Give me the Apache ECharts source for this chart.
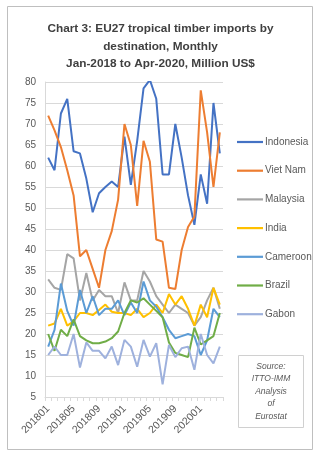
<!DOCTYPE html>
<html>
<head>
<meta charset="utf-8">
<script src="https://cdn.jsdelivr.net/npm/echarts@6/dist/echarts.min.js"></script>
<style>
  html, body { margin: 0; padding: 0; background: #fff; }
  #chart { width: 321px; height: 459px; }
</style>
</head>
<body>
<div id="chart"></div>
<script>
// Monthly categories, Jan 2018 .. Apr 2020
const months = [
  '201801','201802','201803','201804','201805','201806','201807','201808','201809','201810','201811','201812',
  '201901','201902','201903','201904','201905','201906','201907','201908','201909','201910','201911','201912',
  '202001','202002','202003','202004'
];

// EU27 tropical timber imports by origin, million US$
const indonesia = [62,59,72.5,76,63.5,63,57,49,53.5,55,56.3,55,67,55.5,66,78.5,80.5,76,58,58,70,62,53,46,58,51,75,63];
const vietNam   = [72,68.5,64.5,59,53,38.5,40,35.5,31,40,44.5,52,70,65,50.5,66,61,42.5,42,31,30.7,40,45.5,48,78,68,55,68];
const malaysia  = [33,31,30.5,39,38,28,34.5,28,30.5,29,29,25,32.3,28,28,35,32.5,29,27,25,27,26,25,22,24,28,31,26];
const india     = [22,22.5,26,22,23,25,25,24.5,25.7,27,25.3,25,25,24.5,26,24,25,27,25,29.5,27,29,26,22,27,24,31,27];
const cameroon  = [17,21,32,25.5,22,30.5,25,29,24.5,26,26,28,24.5,27.5,25,32.5,28,26.5,24,21,19,19.5,20,19.5,15,18.5,26,24];
const brazil    = [20,16,21,19.5,23.5,19.5,18.5,17.8,17.8,18.2,19,20.6,25,28,27.5,28.5,27,25.5,24,18,15.5,15,14.5,21.5,17.5,18.5,19.5,25];
const gabon     = [15,17,15,15,20,12,18,16,16,14.2,17,12.6,18.6,17,12.2,18.6,14.6,17.8,8,17.4,14.5,16.6,17,11.5,20,15,13,17];

// y-axis range and step
const yMin = 5, yMax = 80, yStep = 5;

const seriesDefs = [
  ['Indonesia', indonesia, '#4472C4'],
  ['Viet Nam',  vietNam,   '#ED7D31'],
  ['Malaysia',  malaysia,  '#A5A5A5'],
  ['India',     india,     '#FFC000'],
  ['Cameroon',  cameroon,  '#5B9BD5'],
  ['Brazil',    brazil,    '#70AD47'],
  ['Gabon',     gabon,     '#9EB1DD']
];

const font = 'Liberation Sans, Arial, sans-serif';
const textGray = '#595959';
const gridGray = '#D9D9D9';

const chart = echarts.init(document.getElementById('chart'), null, { renderer: 'canvas' });

chart.setOption({
  animation: false,
  backgroundColor: '#fff',
  color: seriesDefs.map(d => d[2]),
  title: {
    text: 'Chart 3: EU27 tropical timber imports by\ndestination, Monthly\nJan-2018 to Apr-2020, Million US$',
    left: 'center',
    top: 15,
    textStyle: {
      fontFamily: font,
      fontSize: 11.8,
      fontWeight: 'bold',
      color: '#404040',
      lineHeight: 17.5
    }
  },
  legend: {
    orient: 'vertical',
    left: 232,
    top: 132,
    icon: 'path://M0,0 L26,0 L26,2.2 L0,2.2 Z',
    itemWidth: 26,
    itemHeight: 14,
    itemGap: 18.7,
    textStyle: { fontFamily: font, fontSize: 10, color: textGray, padding: [0, 0, 0, -3] },
    data: seriesDefs.map(d => d[0])
  },
  grid: { left: 45, right: 98, top: 82, bottom: 62, containLabel: false },
  xAxis: {
    type: 'category',
    data: months,
    boundaryGap: true,
    axisLine: { lineStyle: { color: gridGray } },
    axisTick: { show: true, interval: 0, length: 4, lineStyle: { color: gridGray } },
    axisLabel: {
      interval: 3,
      rotate: 45,
      fontFamily: font,
      fontSize: 10.5,
      color: textGray,
      margin: 10
    }
  },
  yAxis: {
    type: 'value',
    min: yMin,
    max: yMax,
    interval: yStep,
    axisLine: { show: true, lineStyle: { color: gridGray } },
    axisTick: { show: false },
    splitLine: { lineStyle: { color: gridGray, width: 1 } },
    axisLabel: { fontFamily: font, fontSize: 10, color: textGray, margin: 9 }
  },
  series: seriesDefs.map(([name, values, color]) => ({
    name,
    type: 'line',
    data: values,
    symbol: 'none',
    lineStyle: { width: 2, color },
    itemStyle: { color }
  })),
  graphic: [
    {
      type: 'rect',
      shape: { x: 7.5, y: 6.5, width: 305, height: 443 },
      style: { fill: 'none', stroke: '#BFBFBF', lineWidth: 1 },
      z: -1
    },
    {
      type: 'rect',
      shape: { x: 238.5, y: 355.5, width: 65, height: 72 },
      style: { fill: '#fff', stroke: '#D0D0D0', lineWidth: 1 }
    },
    {
      type: 'text',
      x: 271,
      y: 360,
      style: {
        text: 'Source:\nITTO-IMM\nAnalysis\nof\nEurostat',
        fontFamily: font,
        fontSize: 8.5,
        fontStyle: 'italic',
        fill: textGray,
        align: 'center',
        lineHeight: 12.6
      }
    }
  ]
});
</script>
</body>
</html>
